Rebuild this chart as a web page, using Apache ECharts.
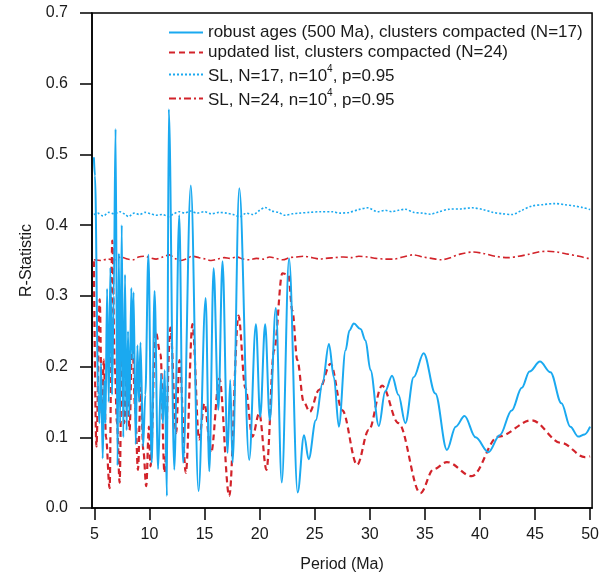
<!DOCTYPE html>
<html>
<head>
<meta charset="utf-8">
<script src="https://cdn.jsdelivr.net/npm/echarts@6/dist/echarts.min.js"></script>
<style>html,body{margin:0;padding:0;background:#fff}#c{width:602px;height:578px}</style>
</head>
<body>
<div id="c"></div>
<script>
// Period (Ma), R-statistic
const robustAges = [[4.95,0.496],[5.05,0.47],[5.35,0.16],[5.45,0.12],[5.6,0.205],[5.75,0.07],[5.9,0.18],[6.0,0.12],[6.15,0.31],[6.3,0.15],[6.45,0.34],[6.6,0.16],[6.75,0.30],[6.92,0.536],[7.1,0.06],[7.22,0.36],[7.33,0.12],[7.48,0.40],[7.62,0.10],[7.78,0.33],[7.92,0.11],[8.05,0.25],[8.17,0.13],[8.35,0.311],[8.45,0.21],[8.55,0.305],[8.75,0.09],[8.9,0.23],[9.05,0.15],[9.18,0.234],[9.42,0.087],[9.62,0.16],[9.9,0.358],[10.2,0.064],[10.46,0.307],[10.78,0.055],[11.05,0.19],[11.22,0.12],[11.38,0.195],[11.58,0.017],[11.75,0.564],[12.25,0.054],[12.7,0.414],[13.05,0.064],[13.75,0.456],[14.45,0.024],[15.1,0.297],[15.43,0.052],[15.82,0.339],[16.25,0.139],[16.63,0.349],[17.09,0.078],[17.33,0.181],[17.54,0.064],[18.15,0.452],[19.05,0.068],[19.66,0.26],[20.05,0.129],[20.5,0.26],[20.92,0.124],[21.47,0.283],[22.01,0.036],[22.67,0.353],[23.45,0.022],[24.03,0.103],[24.45,0.069],[25.1,0.124],[25.7,0.176],[26.29,0.232],[26.74,0.185],[27.19,0.115],[27.8,0.223],[28.15,0.251],[28.55,0.261],[29.16,0.253],[29.61,0.237],[30.06,0.195],[30.82,0.116],[31.4,0.165],[32.02,0.187],[32.6,0.16],[33.23,0.12],[33.98,0.185],[34.89,0.219],[35.95,0.162],[37.0,0.082],[37.8,0.115],[38.6,0.13],[39.6,0.10],[40.77,0.079],[41.8,0.103],[42.88,0.138],[43.8,0.17],[44.5,0.193],[45.45,0.207],[46.4,0.192],[47.4,0.148],[48.2,0.115],[48.92,0.101],[49.5,0.104],[50,0.115]];

const updatedList = [[4.95,0.349],[5.18,0.087],[5.48,0.295],[5.68,0.13],[5.85,0.21],[6.05,0.10],[6.38,0.028],[6.62,0.378],[6.85,0.2],[7.05,0.12],[7.29,0.036],[7.5,0.24],[7.7,0.12],[7.95,0.19],[8.19,0.11],[8.43,0.246],[8.7,0.14],[8.95,0.054],[9.2,0.17],[9.45,0.08],[9.7,0.031],[9.95,0.115],[10.09,0.059],[10.55,0.25],[11.0,0.218],[11.36,0.05],[11.9,0.255],[12.42,0.106],[12.72,0.209],[13.3,0.05],[13.9,0.26],[14.5,0.097],[14.98,0.148],[15.59,0.078],[16.34,0.183],[17.24,0.017],[18.08,0.272],[18.7,0.17],[19.35,0.101],[19.96,0.134],[20.62,0.054],[21.31,0.223],[22.06,0.332],[22.6,0.33],[22.97,0.279],[23.42,0.209],[24.0,0.15],[24.55,0.136],[25.39,0.167],[26.44,0.204],[27.5,0.138],[28.85,0.061],[29.9,0.110],[31.11,0.173],[32.6,0.12],[34.59,0.021],[35.8,0.055],[37.0,0.065],[39.26,0.045],[41.67,0.101],[44.69,0.124],[47.4,0.092],[49.52,0.072],[50,0.073]];

const sl17 = [[4.95,0.415],[5.3,0.417],[5.8,0.413],[6.3,0.418],[6.8,0.416],[7.3,0.419],[7.8,0.415],[8.1,0.412],[8.6,0.417],[9.1,0.415],[9.6,0.418],[10.1,0.416],[10.6,0.414],[11.2,0.415],[11.7,0.412],[12.2,0.416],[12.7,0.419],[13.2,0.417],[13.7,0.42],[14.3,0.417],[15.0,0.419],[15.6,0.416],[16.3,0.418],[17.0,0.417],[17.6,0.415],[18.2,0.412],[18.8,0.417],[19.4,0.415],[20.0,0.421],[20.5,0.425],[21.1,0.42],[21.7,0.418],[22.3,0.414],[23.0,0.416],[23.6,0.417],[24.5,0.418],[25.5,0.419],[26.6,0.419],[27.3,0.417],[28.1,0.418],[29.0,0.422],[29.8,0.4245],[30.7,0.419],[31.4,0.421],[32.0,0.419],[32.6,0.421],[33.2,0.4225],[34.0,0.418],[34.8,0.417],[35.5,0.4155],[36.3,0.419],[37.2,0.4225],[38.3,0.423],[39.3,0.4245],[40.3,0.422],[41.2,0.418],[42.1,0.416],[42.9,0.415],[43.8,0.421],[44.7,0.427],[45.7,0.429],[46.8,0.4305],[47.7,0.429],[48.6,0.427],[49.3,0.425],[50,0.422]];

const sl24 = [[4.95,0.351],[5.6,0.350],[6.2,0.352],[6.8,0.351],[7.4,0.355],[8.0,0.352],[8.5,0.351],[9.0,0.355],[9.5,0.356],[10.0,0.354],[10.6,0.352],[11.2,0.355],[11.8,0.358],[12.3,0.353],[12.8,0.350],[13.3,0.352],[13.9,0.356],[14.5,0.354],[15.1,0.352],[15.6,0.350],[16.2,0.352],[16.8,0.354],[17.3,0.353],[17.9,0.355],[18.5,0.352],[19.1,0.351],[19.7,0.353],[20.3,0.352],[20.9,0.355],[21.5,0.353],[22.1,0.351],[22.7,0.354],[23.3,0.355],[24.0,0.356],[24.8,0.354],[25.5,0.352],[26.0,0.353],[26.8,0.354],[27.6,0.355],[28.3,0.354],[29.0,0.356],[29.8,0.355],[30.6,0.353],[31.4,0.352],[32.15,0.352],[33.0,0.355],[33.96,0.358],[34.8,0.355],[35.6,0.353],[36.5,0.351],[37.3,0.354],[38.2,0.359],[39.37,0.362],[40.3,0.36],[41.4,0.356],[42.54,0.354],[43.5,0.356],[44.5,0.359],[45.3,0.362],[46.16,0.363],[47.0,0.362],[48.0,0.359],[49.0,0.356],[49.9,0.353],[50,0.353]];

const xTicks = [5,10,15,20,25,30,35,40,45,50];
const seriesNames = [
  'robust ages (500 Ma), clusters compacted (N=17)',
  'updated list, clusters compacted (N=24)',
  'SL, N=17, n=10^4, p=0.95',
  'SL, N=24, n=10^4, p=0.95'
];

const BLUE = '#1aa9f0', RED = '#d2232a', TXT = '#1a1a1a', FONT = '"Liberation Sans", Arial, sans-serif';
const chart = echarts.init(document.getElementById('c'), null, {renderer: 'canvas'});
const axisLine = {show: true, lineStyle: {color: '#000', width: 1.5}};
chart.setOption({
  animation: false,
  backgroundColor: '#fff',
  grid: {left: 92, right: 8, top: 13, bottom: 65, show: true, borderColor: '#000', borderWidth: 1.5, backgroundColor: 'transparent'},
  legend: {
    orient: 'vertical', left: 163, top: 19, itemWidth: 34, itemHeight: 14, itemGap: 3,
    data: seriesNames,
    itemStyle: {color: 'rgba(0,0,0,0)', opacity: 0, borderWidth: 0},
    formatter: function (n) {
      if (n.indexOf('^4') >= 0) {
        const p = n.split('^4');
        return '{t|' + p[0] + '}{s|4}{t|' + p[1] + '}';
      }
      return '{t|' + n + '}';
    },
    textStyle: {
      color: TXT, fontFamily: FONT, fontSize: 17,
      rich: {
        t: {fontSize: 17, color: TXT, fontFamily: FONT, verticalAlign: 'bottom'},
        s: {fontSize: 10, color: TXT, fontFamily: FONT, verticalAlign: 'bottom', padding: [0, 0, 11, 0]}
      }
    }
  },
  xAxis: {
    type: 'value', min: 4.78, max: 50.18,
    name: 'Period (Ma)', nameLocation: 'middle', nameGap: 49,
    nameTextStyle: {color: TXT, fontFamily: FONT, fontSize: 16},
    axisLine: axisLine,
    axisTick: {show: true, inside: false, length: 12, customValues: xTicks, lineStyle: {color: '#000', width: 1.5}},
    axisLabel: {customValues: xTicks, margin: 19, color: TXT, fontFamily: FONT, fontSize: 16},
    splitLine: {show: false}
  },
  yAxis: {
    type: 'value', min: 0, max: 0.7, interval: 0.1,
    name: 'R-Statistic', nameLocation: 'middle', nameGap: 55,
    nameTextStyle: {color: TXT, fontFamily: FONT, fontSize: 16},
    axisLine: axisLine,
    axisTick: {show: true, inside: false, length: 12, lineStyle: {color: '#000', width: 1.5}},
    axisLabel: {margin: 24, color: TXT, fontFamily: FONT, fontSize: 16, formatter: v => v.toFixed(1)},
    splitLine: {show: false}
  },
  series: [
    {name: seriesNames[3], type: 'line', data: sl24, symbol: 'none', smooth: 0.3,
     lineStyle: {color: RED, width: 1.6, type: [7, 3, 2, 3]}, itemStyle: {color: RED}},
    {name: seriesNames[2], type: 'line', data: sl17, symbol: 'none', smooth: 0.3,
     lineStyle: {color: BLUE, width: 1.6, type: [2, 2]}, itemStyle: {color: BLUE}},
    {name: seriesNames[1], type: 'line', data: updatedList, symbol: 'none', smooth: 0.35, smoothMonotone: 'x',
     lineStyle: {color: RED, width: 2.2, type: [6, 4]}, itemStyle: {color: RED}},
    {name: seriesNames[0], type: 'line', data: robustAges, symbol: 'none', smooth: 0.35, smoothMonotone: 'x',
     lineStyle: {color: BLUE, width: 2}, itemStyle: {color: BLUE}}
  ]
});
</script>
</body>
</html>
